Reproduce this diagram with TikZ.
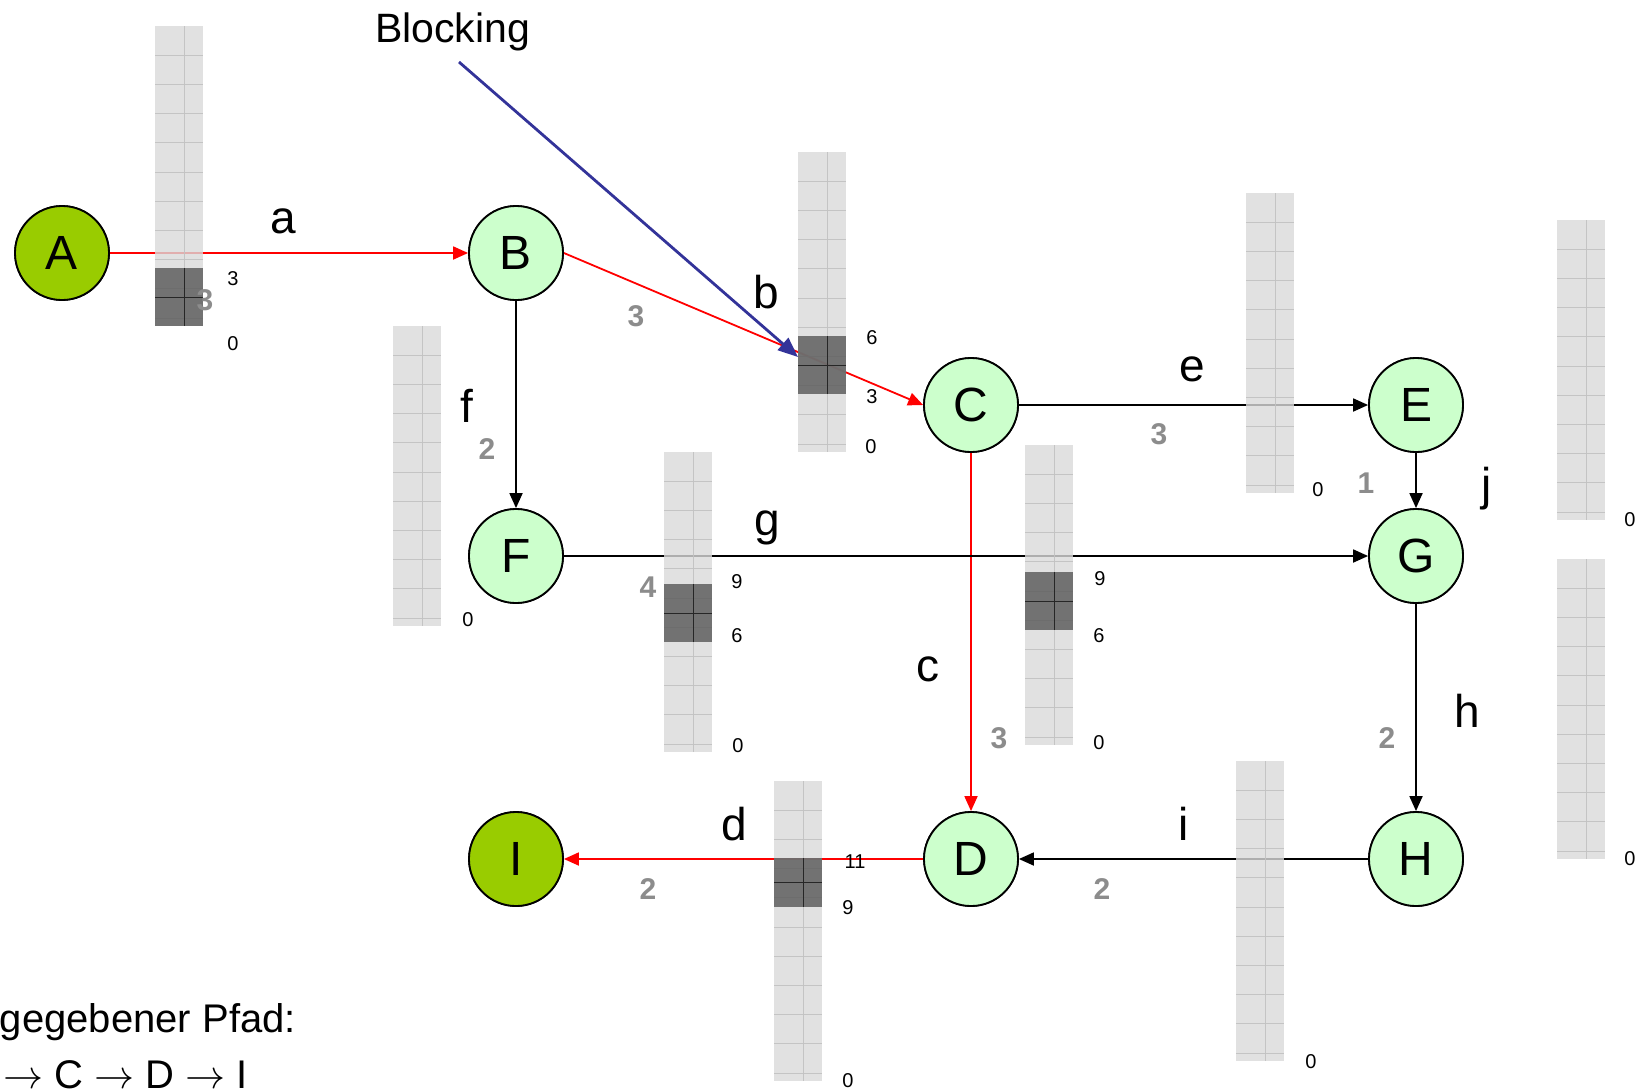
\documentclass[tikz,border=0pt]{standalone}
\usepackage{fontspec}
\setmainfont{Liberation Sans}
\usetikzlibrary{arrows.meta}
\definecolor{nodegreen}{HTML}{CCFFCC}
\definecolor{endgreen}{HTML}{99CC00}
\definecolor{barlight}{HTML}{DADADA}
\definecolor{bardark}{HTML}{5E5E5E}
\definecolor{gridl}{HTML}{C2C2C2}
\definecolor{wgray}{HTML}{8C8C8C}
\definecolor{blockblue}{HTML}{333399}
\newcommand\lightbar[2]{%
  \fill[barlight, fill opacity=0.8] (#1,#2) rectangle ++(48,300);
  \foreach \k in {1,...,10} \draw[gridl, line width=1pt, draw opacity=0.9] (#1,#2+29.2*\k) -- ++(48,0);
  \draw[gridl, line width=1pt, draw opacity=0.9] (#1+29,#2) -- ++(0,300);
}
\newcommand\darkpart[3]{%
  \fill[bardark, fill opacity=0.85] (#1,#2) rectangle (#1+48,#3);
  \draw[black!85, line width=1pt] (#1+29,#2) -- (#1+29,#3);
  \draw[black!85, line width=1pt] (#1,{(#2+#3)/2}) -- (#1+48,{(#2+#3)/2});
}
\newcommand\myrarr{\resizebox{40pt}{!}{$\rightarrow$}}
\tikzset{
  vtx/.style={circle, draw=black, line width=1.8pt, fill=nodegreen, minimum size=94pt, inner sep=0pt, font=\fontsize{48}{48}\selectfont},
  endvtx/.style={vtx, fill=endgreen},
  redge/.style={red, line width=1.8pt, -{Triangle[length=15pt,width=13pt]}},
  bedge/.style={black, line width=1.8pt, -{Triangle[length=15pt,width=13pt]}},
  blockarrow/.style={blockblue, line width=2.8pt, -{Triangle[length=20pt,width=16pt]}},
  elabel/.style={anchor=base, inner sep=0pt, font=\fontsize{46}{46}\selectfont},
  weight/.style={inner sep=0pt, text=wgray, font=\fontsize{30}{30}\selectfont\bfseries},
  barnum/.style={inner sep=0pt, font=\fontsize{20}{20}\selectfont},
  plaintext/.style={inner sep=0pt, font=\fontsize{40}{40}\selectfont},
}
\begin{document}
\begin{tikzpicture}[x=1pt,y=-1pt]
\useasboundingbox (0,0) rectangle (1638,1090);
\clip (0,0) rectangle (1638,1090);
% nodes (positions)
\node[endvtx] (A) at (62,253) {A};
\node[vtx] (B) at (516,253) {B};
\node[vtx] (C) at (971,405) {C};
\node[vtx] (E) at (1416,405) {E};
\node[vtx] (F) at (516,556) {F};
\node[vtx] (G) at (1416,556) {G};
\node[vtx] (D) at (971,859) {D};
\node[vtx] (H) at (1416,859) {H};
\node[endvtx] (I) at (516,859) {I};
% edges
\draw[redge] (A) -- (B);
\draw[redge] (B.east) -- (C.west);
\draw[redge] (C) -- (D);
\draw[redge] (D) -- (I);
\draw[bedge] (C) -- (E);
\draw[bedge] (B) -- (F);
\draw[bedge] (F) -- (G);
\draw[bedge] (E) -- (G);
\draw[bedge] (G) -- (H);
\draw[bedge] (H) -- (D);
% bars
\lightbar{155}{26}   \darkpart{155}{268}{326}
\lightbar{393}{326}
\lightbar{798}{152}  \darkpart{798}{336}{394}
\lightbar{1246}{193}
\lightbar{664}{452}  \darkpart{664}{584}{642}
\lightbar{1025}{445} \darkpart{1025}{572}{630}
\lightbar{774}{781}  \darkpart{774}{858}{907}
\lightbar{1236}{761}
\lightbar{1557}{220}
\lightbar{1557}{559}
% redraw nodes on top
\node[endvtx] at (A) {A};
\node[vtx] at (B) {B};
\node[vtx] at (C) {C};
\node[vtx] at (E) {E};
\node[vtx] at (F) {F};
\node[vtx] at (G) {G};
\node[vtx] at (D) {D};
\node[vtx] at (H) {H};
\node[endvtx] at (I) {I};
% blocking
\node[anchor=base west, inner sep=0pt, font=\fontsize{41}{41}\selectfont] (blk) at (375,42) {Blocking};
\coordinate (blkfrom) at (459,62);
\coordinate (blkto) at (798,357);
\draw[blockarrow] (blkfrom) -- (blkto);
% edge labels
\node[elabel] (la) at (283,233) {a};
\node[elabel] (lb) at (766,308) {b};
\node[elabel] (le) at (1192,381) {e};
\node[elabel] (lf) at (467,422) {f};
\node[elabel] (lg) at (767,535) {g};
\node[elabel] (lc) at (928,681) {c};
\node[elabel] (lh) at (1467,727) {h};
\node[elabel] (li) at (1184,840) {i};
\node[elabel] (ld) at (734,840) {d};
\node[elabel] (lj) at (1487,500) {j};
% weights
\node[weight] (wa) at (205,300) {3};
\node[weight] (wb) at (636,316) {3};
\node[weight] (wf) at (487,449) {2};
\node[weight] (we) at (1159,434) {3};
\node[weight] (wj) at (1366,483) {1};
\node[weight] (wg) at (648,587) {4};
\node[weight] (wc) at (999,738) {3};
\node[weight] (wh) at (1387,738) {2};
\node[weight] (wi) at (1102,889) {2};
\node[weight] (wd) at (648,889) {2};
% bar numbers
\node[barnum] (na1) at (233,279) {3};
\node[barnum] (na0) at (233,344) {0};
\node[barnum] (nb6) at (872,338) {6};
\node[barnum] (nb3) at (872,397) {3};
\node[barnum] (nb0) at (871,447) {0};
\node[barnum] (nf0) at (468,620) {0};
\node[barnum] (ne0) at (1318,490) {0};
\node[barnum] (ng9) at (737,582) {9};
\node[barnum] (ng6) at (737,636) {6};
\node[barnum] (ng0) at (738,746) {0};
\node[barnum] (nc9) at (1100,579) {9};
\node[barnum] (nc6) at (1099,636) {6};
\node[barnum] (nc0) at (1099,743) {0};
\node[barnum] (nd11) at (855,862) {11};
\node[barnum] (nd9) at (848,908) {9};
\node[barnum] (nd0) at (848,1081) {0};
\node[barnum] (ni0) at (1311,1062) {0};
\node[barnum] (nj0) at (1630,520) {0};
\node[barnum] (nh0) at (1630,859) {0};
% bottom text
\node[plaintext, anchor=base east] (t1) at (296,1032) {Vorgegebener Pfad:};
\node[plaintext, anchor=base east] (t2) at (248,1088) {A \myrarr{} B \myrarr{} C \myrarr{} D \myrarr{} I};
\end{tikzpicture}
\end{document}
